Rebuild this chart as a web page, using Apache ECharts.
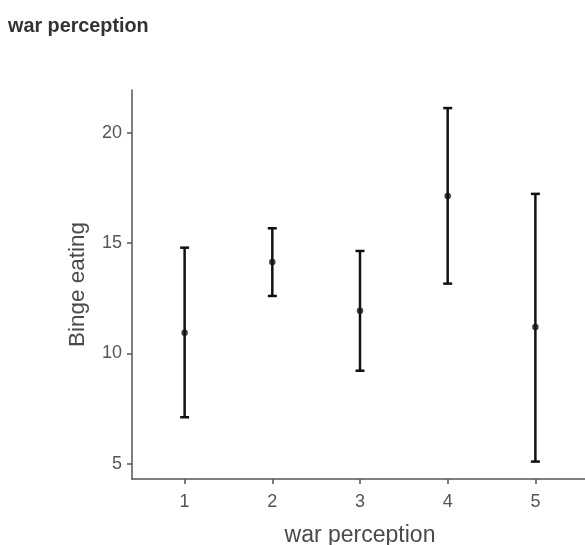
<!DOCTYPE html>
<html>
<head>
<meta charset="utf-8">
<script src="https://cdn.jsdelivr.net/npm/echarts@6/dist/echarts.min.js"></script>
<style>
html,body{margin:0;padding:0;background:#fff;}
#chart{width:585px;height:545px;}
</style>
</head>
<body>
<div id="chart"></div>
<script>
var categories = [1, 2, 3, 4, 5];
var means = [10.93, 14.14, 11.93, 17.13, 11.19];
var lowers = [7.10, 12.60, 9.21, 13.16, 5.09];
var uppers = [14.79, 15.67, 14.64, 21.12, 17.23];
var yTicks = [5, 10, 15, 20];
var xTicks = [1, 2, 3, 4, 5];

var pointData = categories.map(function (c, i) { return [c, means[i]]; });
var barData = categories.map(function (c, i) { return [c, lowers[i], uppers[i]]; });

var chart = echarts.init(document.getElementById('chart'), null, {renderer: 'canvas'});
var axisColor = '#555';
var textFont = 'Liberation Sans, Arial, sans-serif';

chart.setOption({
  animation: false,
  backgroundColor: '#fff',
  title: {
    text: 'war perception',
    left: 3, top: 12,
    textStyle: {fontFamily: textFont, fontWeight: 'bold', fontSize: 19.8, color: '#333'}
  },
  grid: {left: 132, top: 90, bottom: 66, right: -3, containLabel: false, outerBoundsMode: 'none'},
  xAxis: {
    type: 'value', min: 0.4, max: 5.6,
    name: 'war perception', nameLocation: 'middle', nameGap: 45,
    nameTextStyle: {fontFamily: textFont, fontSize: 23, color: '#4a4a4a'},
    splitLine: {show: false},
    axisLine: {show: true, lineStyle: {color: axisColor, width: 1.5}},
    axisTick: {show: true, length: 5, lineStyle: {color: axisColor, width: 1.5}, customValues: xTicks},
    axisLabel: {customValues: xTicks, fontFamily: textFont, fontSize: 18, color: '#555', margin: 14}
  },
  yAxis: {
    type: 'value', min: 4.3, max: 21.94,
    name: 'Binge eating', nameLocation: 'middle', nameGap: 43, nameRotate: 90,
    nameTextStyle: {fontFamily: textFont, fontSize: 22.5, color: '#4a4a4a'},
    splitLine: {show: false},
    axisLine: {show: true, lineStyle: {color: axisColor, width: 1.5}},
    axisTick: {show: true, length: 5, lineStyle: {color: axisColor, width: 1.5}, customValues: yTicks},
    axisLabel: {customValues: yTicks, fontFamily: textFont, fontSize: 18, color: '#555', margin: 10}
  },
  series: [
    {
      type: 'custom',
      data: barData,
      renderItem: function (params, api) {
        var x = api.value(0);
        var lo = api.coord([x, api.value(1)]);
        var hi = api.coord([x, api.value(2)]);
        var hw = 4.5;
        var style = {stroke: '#111', lineWidth: 2.5, fill: null};
        return {
          type: 'group',
          children: [
            {type: 'line', shape: {x1: lo[0], y1: lo[1], x2: hi[0], y2: hi[1]}, style: style},
            {type: 'line', shape: {x1: lo[0] - hw, y1: lo[1], x2: lo[0] + hw, y2: lo[1]}, style: style},
            {type: 'line', shape: {x1: hi[0] - hw, y1: hi[1], x2: hi[0] + hw, y2: hi[1]}, style: style}
          ]
        };
      },
      z: 2
    },
    {
      type: 'scatter',
      data: pointData,
      symbol: 'circle',
      symbolSize: 6.5,
      itemStyle: {color: '#111'},
      z: 3
    }
  ]
});
</script>
</body>
</html>
